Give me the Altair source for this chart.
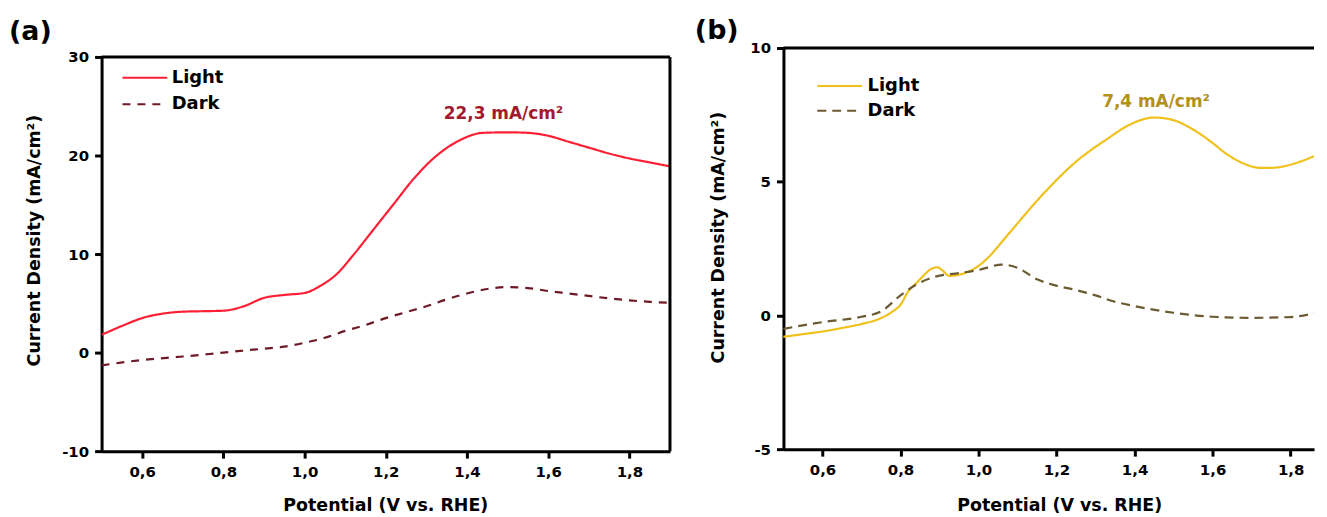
import altair as alt
import pandas as pd

# ---------------- data ----------------
series_names = ["Light", "Dark"]

# panel (a)
a_light_x = [0.5, 0.55, 0.6, 0.65, 0.7, 0.75, 0.8, 0.85, 0.9, 0.95, 1.0, 1.04, 1.08, 1.12,
             1.17, 1.22, 1.27, 1.32, 1.38, 1.44, 1.5, 1.55, 1.6, 1.65, 1.7, 1.75, 1.8, 1.85, 1.9]
a_light_y = [1.8, 2.7, 3.5, 3.95, 4.15, 4.2, 4.25, 4.7, 5.55, 5.85, 6.05, 6.8, 8.0, 9.9,
             12.5, 15.1, 17.7, 19.8, 21.5, 22.3, 22.35, 22.3, 22.0, 21.4, 20.8, 20.2, 19.7, 19.3, 18.9]
a_dark_x = [0.5, 0.6, 0.7, 0.8, 0.9, 0.95, 1.0, 1.05, 1.1, 1.15, 1.2, 1.25, 1.3, 1.35, 1.4,
            1.45, 1.5, 1.55, 1.6, 1.65, 1.7, 1.75, 1.8, 1.85, 1.9]
a_dark_y = [-1.3, -0.75, -0.4, 0.0, 0.4, 0.6, 1.0, 1.5, 2.2, 2.8, 3.5, 4.1, 4.7, 5.4, 6.0,
            6.45, 6.65, 6.55, 6.25, 6.0, 5.75, 5.5, 5.3, 5.15, 5.05]

# panel (b)
b_light_x = [0.5, 0.55, 0.6, 0.65, 0.7, 0.75, 0.78, 0.8, 0.82, 0.84, 0.86, 0.88, 0.895, 0.91,
             0.925, 0.95, 0.98, 1.0, 1.02, 1.08, 1.16, 1.25, 1.33, 1.39, 1.45, 1.5, 1.55,
             1.6, 1.63, 1.66, 1.69, 1.72, 1.75, 1.79, 1.83, 1.86]
b_light_y = [-0.8, -0.7, -0.6, -0.47, -0.32, -0.1, 0.15, 0.4, 0.9, 1.2, 1.5, 1.75, 1.8, 1.65,
             1.48, 1.52, 1.68, 1.85, 2.1, 3.1, 4.45, 5.75, 6.6, 7.15, 7.4, 7.3, 6.95,
             6.45, 6.1, 5.82, 5.62, 5.52, 5.52, 5.6, 5.78, 5.95]
b_dark_x = [0.5, 0.6, 0.7, 0.75, 0.8, 0.84, 0.89, 0.95, 1.0, 1.06, 1.1, 1.15, 1.19, 1.25,
            1.3, 1.34, 1.4, 1.5, 1.6, 1.7, 1.8, 1.86]
b_dark_y = [-0.5, -0.25, -0.05, 0.15, 0.75, 1.15, 1.45, 1.58, 1.7, 1.9, 1.78, 1.35, 1.15, 0.95,
            0.75, 0.55, 0.35, 0.1, -0.05, -0.09, -0.06, 0.08]

# annotations
a_peak_text = ["22,3 mA/cm²"]
a_peak_x = [1.49]
a_peak_y = [24.2]
b_peak_text = ["7,4 mA/cm²"]
b_peak_x = [1.455]
b_peak_y = [7.97]

panel_labels = ["(a)", "(b)"]

# axes
a_x_domain = [0.5, 1.9]
a_y_domain = [-10, 30]
b_x_domain = [0.5, 1.86]
b_y_domain = [-5, 10]
x_ticks = [0.6, 0.8, 1.0, 1.2, 1.4, 1.6, 1.8]
a_y_ticks = [-10, 0, 10, 20, 30]
b_y_ticks = [-5, 0, 5, 10]

# ---------------- styles ----------------
FONT = "DejaVu Sans"
a_colors = ["#ff1f35", "#6e1a26"]
b_colors = ["#f0c11c", "#6b5a32"]
a_dashes = [[1, 0], [8, 7]]
b_dashes = [[1, 0], [9, 6]]
a_annot_color = "#a31a2e"
b_annot_color = "#b3901c"

W, H = 1218, 405
A_XR = [0, 571]
A_YR = [405, 9]
B_XR = [685, W]
B_YR = [403, 0]

axis_common = dict(
    domainColor="black", domainWidth=3, tickColor="black", tickWidth=3, tickSize=7,
    labelFont=FONT, labelFontSize=15, labelFontWeight="bold", labelColor="black",
    labelPadding=6, labelFlush=False, labelOverlap=False,
    titleFont=FONT, titleFontSize=17.5, titleFontWeight="bold", titleColor="black",
    grid=False,
)
x_label_expr = "replace(format(datum.value, '.1f'), '.', ',')"
y_label_expr = "'' + datum.value"


def series_frame(xl, yl, xd, yd):
    return pd.DataFrame({
        "x": xl + xd,
        "y": yl + yd,
        "series": ["Light"] * len(xl) + ["Dark"] * len(xd),
        "order": list(range(len(xl))) + list(range(len(xd))),
    })


def make_panel(df, xdom, ydom, xr, yr, colors, dashes, xaxis, yaxis, legend,
               annot, annot_color, frame_top, frame_right, label, label_pos):
    xs = alt.Scale(domain=xdom, range=xr, nice=False, zero=False)
    ys = alt.Scale(domain=ydom, range=yr, nice=False, zero=False)
    lines = alt.Chart(df).mark_line(strokeWidth=2.2, interpolate="monotone", clip=True).encode(
        x=alt.X("x:Q", scale=xs, axis=xaxis),
        y=alt.Y("y:Q", scale=ys, axis=yaxis),
        color=alt.Color("series:N", scale=alt.Scale(domain=series_names, range=colors), legend=legend),
        strokeDash=alt.StrokeDash("series:N", scale=alt.Scale(domain=series_names, range=dashes), legend=legend),
        detail="series:N",
        order="order:Q",
    )
    layers = [lines]
    top = alt.Chart(pd.DataFrame(frame_top)).mark_rule(color="black", strokeWidth=3).encode(
        x=alt.X("x:Q", scale=xs),
        x2="x2:Q",
        y=alt.Y("y:Q", scale=ys),
    )
    layers.append(top)
    if frame_right is not None:
        right = alt.Chart(pd.DataFrame(frame_right)).mark_rule(color="black", strokeWidth=3).encode(
            x=alt.X("x:Q", scale=xs),
            y=alt.Y("y:Q", scale=ys),
            y2="y2:Q",
        )
        layers.append(right)
    ann = alt.Chart(pd.DataFrame(annot)).mark_text(
        font=FONT, fontSize=17, fontWeight="bold", color=annot_color, align="center", baseline="middle"
    ).encode(
        x=alt.X("x:Q", scale=xs),
        y=alt.Y("y:Q", scale=ys),
        text="text:N",
    )
    layers.append(ann)
    lab = alt.Chart(pd.DataFrame({"t": [label]})).mark_text(
        font=FONT, fontSize=27, fontWeight="bold", color="black", align="left", baseline="middle"
    ).encode(x=alt.value(label_pos[0]), y=alt.value(label_pos[1]), text="t:N")
    layers.append(lab)
    return alt.layer(*layers)


df_a = series_frame(a_light_x, a_light_y, a_dark_x, a_dark_y)
df_b = series_frame(b_light_x, b_light_y, b_dark_x, b_dark_y)

legend_a = alt.Legend(orient="none", legendX=31, legendY=17.5, title=None, symbolType="M-2,0H2",
                      symbolSize=506, symbolStrokeWidth=2, labelFont=FONT, labelFontSize=18,
                      labelFontWeight="bold", labelColor="black", labelOffset=14.5, rowPadding=4.5,
                      padding=0)
legend_b = alt.Legend(orient="none", legendX=729, legendY=25.75, title=None, symbolType="M-2,0H2",
                      symbolSize=506, symbolStrokeWidth=2, labelFont=FONT, labelFontSize=18,
                      labelFontWeight="bold", labelColor="black", labelOffset=15.5, rowPadding=2.8,
                      padding=0)

xaxis_a = alt.Axis(orient="bottom", values=x_ticks, labelExpr=x_label_expr, title="Potential (V vs. RHE)",
                   titleX=285, titleY=55, titleBaseline="middle", titleAlign="center", **axis_common)
yaxis_a = alt.Axis(orient="left", values=a_y_ticks, labelExpr=y_label_expr, title="Current Density (mA/cm²)",
                   titleX=-67, titleY=193, titleAngle=270, titleBaseline="middle", titleAlign="center",
                   **axis_common)
xaxis_b = alt.Axis(orient="bottom", values=x_ticks, labelExpr=x_label_expr, title="Potential (V vs. RHE)",
                   offset=-2, titleX=962, titleY=57, titleBaseline="middle", titleAlign="center", **axis_common)
yaxis_b = alt.Axis(orient="left", values=b_y_ticks, labelExpr=y_label_expr, title="Current Density (mA/cm²)",
                   offset=-685, titleX=-65, titleY=190, titleAngle=270, titleBaseline="middle",
                   titleAlign="center", **axis_common)

panel_a = make_panel(
    df_a, a_x_domain, a_y_domain, A_XR, A_YR, a_colors, a_dashes, xaxis_a, yaxis_a, legend_a,
    {"x": a_peak_x, "y": a_peak_y, "text": a_peak_text}, a_annot_color,
    {"x": [a_x_domain[0]], "x2": [a_x_domain[1]], "y": [a_y_domain[1]]},
    {"x": [a_x_domain[1]], "y": [a_y_domain[0]], "y2": [a_y_domain[1]]},
    panel_labels[0], (-93, -16),
)
panel_b = make_panel(
    df_b, b_x_domain, b_y_domain, B_XR, B_YR, b_colors, b_dashes, xaxis_b, yaxis_b, legend_b,
    {"x": b_peak_x, "y": b_peak_y, "text": b_peak_text}, b_annot_color,
    {"x": [b_x_domain[0]], "x2": [b_x_domain[1]], "y": [b_y_domain[1]]},
    None,
    panel_labels[1], (596, -17),
)

chart = alt.layer(panel_a, panel_b).resolve_scale(
    x="independent", y="independent", color="independent", strokeDash="independent"
).resolve_axis(
    x="independent", y="independent"
).resolve_legend(
    color="independent", strokeDash="independent"
).properties(
    width=W, height=H,
    autosize=alt.AutoSizeParams(type="none"),
    padding={"left": 94, "top": 39, "right": 5, "bottom": 66},
).configure_view(strokeWidth=0)

chart.save("out.html", embed_options={"renderer": "svg", "actions": False})
